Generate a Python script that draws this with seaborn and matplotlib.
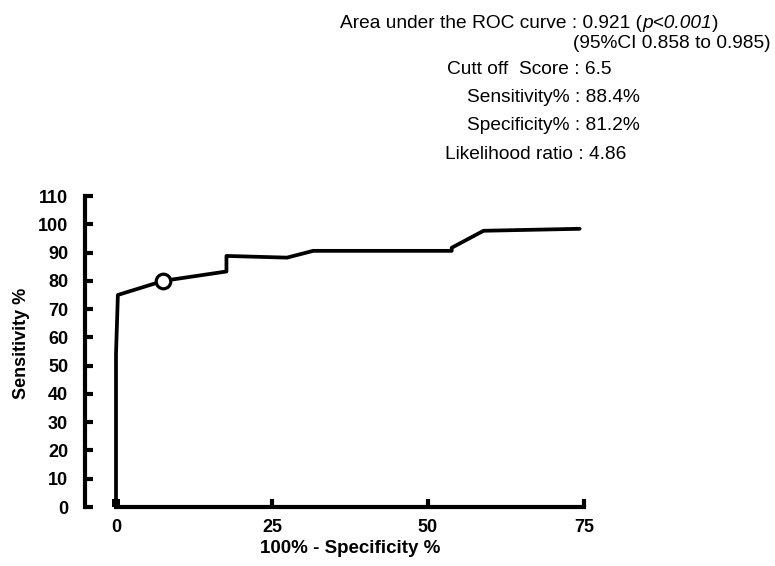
import numpy as np
import pandas as pd
import matplotlib
matplotlib.use("Agg")
import matplotlib.pyplot as plt
import seaborn as sns

# ROC curve (x = 100% - specificity, y = sensitivity)
fpr = [0, 0, 0.3, 7.6, 17.7, 17.7, 27.4, 31.6, 53.8, 53.8, 58.9, 74.3]
tpr = [0, 54, 75, 80, 83.3, 88.8, 88.2, 90.6, 90.6, 91.7, 97.7, 98.4]

# cut off point marked with the open circle
cut_x = [7.6]
cut_y = [80]

# small start marker
start_x = [0]
start_y = [1.5]

xticks = [0, 25, 50, 75]
yticks = [0, 10, 20, 30, 40, 50, 60, 70, 80, 90, 100, 110]

info_lines = [
    ("Cutt off  Score : 6.5", 447, 69),
    ("Sensitivity% : 88.4%", 467, 97),
    ("Specificity% : 81.2%", 467, 126),
    ("Likelihood ratio : 4.86", 445, 155),
]

sns.set_style("white")
plt.rcParams['font.family'] = ['Liberation Sans', 'DejaVu Sans']
plt.rcParams['text.color'] = 'black'
plt.rcParams['axes.labelcolor'] = 'black'
plt.rcParams['xtick.color'] = 'black'
plt.rcParams['ytick.color'] = 'black'

W, H = 775, 566
fig = plt.figure(figsize=(W / 100, H / 100), dpi=100)
# axes placed in pixels: left spine x=85, x 0..75 -> 116..584, y 0..110 -> 507..196
x0, x1 = -5, 76
y0, y1 = 0, 111
pxu = (584 - 116) / 75.0
pyu = (507 - 196) / 110.0
left = 116 - 5 * pxu
width = (x1 - x0) * pxu
height = (y1 - y0) * pyu
ax = fig.add_axes([left / W, (H - 507) / H, width / W, height / H])

roc = pd.DataFrame({"fpr": fpr, "tpr": tpr})
sns.lineplot(data=roc, x="fpr", y="tpr", sort=False, estimator=None,
             color="black", linewidth=2.7, ax=ax, clip_on=False)
sns.scatterplot(x=start_x, y=start_y, marker="s", s=30, color="black",
                linewidth=0, ax=ax, clip_on=False)
sns.scatterplot(x=cut_x, y=cut_y, marker="o", s=110, facecolor="white",
                edgecolor="black", linewidth=2.3, ax=ax, zorder=5, clip_on=False)

ax.set_xlim(x0, x1)
ax.set_ylim(y0, y1)
ax.set_xticks(xticks)
ax.set_yticks(yticks)
ax.set_xticklabels([str(t) for t in xticks], fontweight="bold", fontsize=13)
ax.set_yticklabels([str(t) for t in yticks], fontweight="bold", fontsize=13)
ax.tick_params(axis="both", direction="in", length=6, width=3,
               color="black", left=True, bottom=True)
ax.tick_params(axis="y", pad=12)
ax.tick_params(axis="x", pad=9)

sns.despine(ax=ax)
for s in ["left", "bottom"]:
    ax.spines[s].set_linewidth(3)
    ax.spines[s].set_color("black")
ax.spines["left"].set_bounds(0, 110)
ax.spines["bottom"].set_bounds(0, 75)

ax.set_xlabel("100% - Specificity %", fontweight="bold", fontsize=13.5, va="top")
ax.set_ylabel("Sensitivity %", fontweight="bold", fontsize=13)
ax.xaxis.set_label_coords((37.5 - x0) / (x1 - x0), -0.106)
ax.yaxis.set_label_coords(-0.108, 0.52)

# annotation block at the top right
def fy(py):
    return 1 - py / H

fs = 13.8
t1 = fig.text(340 / W, fy(23), "Area under the ROC curve : 0.921 (",
              fontsize=fs, va="center", ha="left")
t2 = fig.text(0, 0, "p<0.001", fontsize=fs, style="italic")
t3 = fig.text(0, 0, ")", fontsize=fs)
fig.canvas.draw()
r = fig.canvas.get_renderer()
bb1 = t1.get_window_extent(r)
t2.set_position((bb1.x1 / W, bb1.y0 / H))
t2.set_va("bottom")
fig.canvas.draw()
bb2 = t2.get_window_extent(r)
t3.set_position((bb2.x1 / W, bb1.y0 / H))
t3.set_va("bottom")

fig.text(771 / W, fy(43), "(95%CI 0.858 to 0.985)", fontsize=fs,
         va="center", ha="right")
for txt, px, py in info_lines:
    fig.text(px / W, fy(py), txt, fontsize=fs, va="center", ha="left")

fig.savefig("out.png", dpi=100, facecolor="white")
